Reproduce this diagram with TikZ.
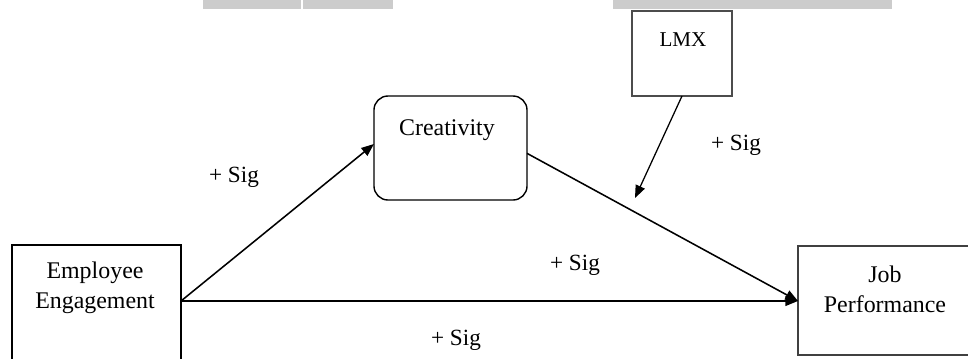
\documentclass[tikz,border=0pt]{standalone}
\usepackage{fontspec}
\setmainfont{Liberation Serif}
\usetikzlibrary{arrows.meta}

\begin{document}
\begin{tikzpicture}[x=0.025cm,y=-0.025cm,
  varbox/.style={draw=black,line width=1pt,inner sep=0pt,outer sep=0pt},
  boxtext/.style={font=\fontsize{17}{21.5}\selectfont,align=center,inner sep=0pt},
  siglabel/.style={font=\fontsize{16.5}{19}\selectfont,inner sep=0pt},
  path/.style={-{Triangle[length=9pt,width=7pt]},line width=1.1pt}]

%FRAME
\useasboundingbox (0,0) rectangle (968,358);
\clip (0,0) rectangle (968,358);
%FRAME

%GREY BARS
\fill[black!20] (203,0) rectangle (301,9);
\fill[black!20] (303,0) rectangle (393,9);
\fill[black!20] (613,0) rectangle (892,9);

\node[varbox,minimum width=4.225cm,minimum height=3.875cm](ee) at (96.5,322.5) {};
\node[varbox,rounded corners=10pt,minimum width=3.825cm,minimum height=2.6cm](cre) at (450.5,148) {};
\node[varbox,draw=black!70,line width=1.4pt,minimum width=2.5cm,minimum height=2.125cm](lmx) at (682,53.5) {};
\node[varbox,draw=black!75,line width=1.4pt,minimum width=5.3cm,minimum height=2.725cm](jp) at (904,300.5) {};

\node[boxtext](eetxt) at (95,288) {Employee\\Engagement};
\node[boxtext](cretxt) at (447,130) {Creativity};
\node[boxtext,font=\fontsize{15}{18}\selectfont](lmxtxt) at (683,40) {LMX};
\node[boxtext](jptxt) at (885,289) {Job\\Performance};

\coordinate (eeout) at (181,301);
\coordinate (jpin) at (798,301);
\coordinate (mod) at (635,198);

\draw[path] (eeout) -- (cre.-183);
\draw[path] (cre.-4) -- (jpin);
\draw[path] (eeout) -- (jpin);
\draw[path,line width=0.9pt] (lmx.south) -- (mod);

\node[siglabel](s1) at (234,177) {+ Sig};
\node[siglabel](s2) at (736,145) {+ Sig};
\node[siglabel](s3) at (575,265) {+ Sig};
\node[siglabel](s4) at (456,340) {+ Sig};

\end{tikzpicture}
\end{document}
